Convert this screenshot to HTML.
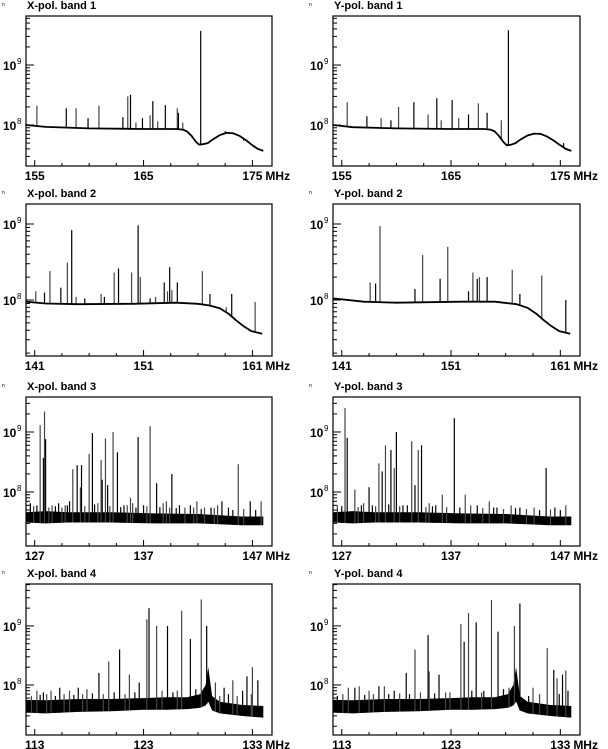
<!DOCTYPE html>
<html><head><meta charset="utf-8"><style>
html,body{margin:0;padding:0;background:#fff;}
svg{display:block;font-family:"Liberation Sans",Arial,sans-serif;}
</style></head><body>
<svg id="chart" width="608" height="749" viewBox="0 0 608 749" xmlns="http://www.w3.org/2000/svg"></svg>
<script>
// ---- data (frequencies in MHz, power values) ----
const b1Ticks=[155,165,175];
const b2Ticks=[141,151,161];
const b3Ticks=[127,137,147];
const b4Ticks=[113,123,133];

// Band 1 X
const x1BaseF=[154.2,156,160,165,168,168.6,169.0,169.4,169.8,170.1,170.5,170.9,171.4,172,172.6,173.2,173.8,174.4,175,175.5,176];
const x1BaseV=[1.0e8,9.3e7,8.8e7,8.6e7,8.6e7,8.4e7,7.8e7,6.6e7,5.3e7,4.7e7,4.8e7,5.0e7,5.8e7,6.8e7,7.4e7,7.3e7,6.6e7,5.6e7,4.6e7,4.0e7,3.7e7];
const x1SpF=[155.2,157.9,158.8,159.9,160.9,163.1,163.55,163.8,164.3,164.9,165.6,165.85,166.3,167.0,168.1,168.2,168.6,170.25,172.5,174.2];
const x1SpV=[2.1e8,1.9e8,1.9e8,1.3e8,2.1e8,1.35e8,3.0e8,3.2e8,1.1e8,1.3e8,1.45e8,2.5e8,1.15e8,2.15e8,1.9e8,1.6e8,1.1e8,3.7e9,8e7,5.5e7];
// Band 1 Y
const y1BaseF=[154.2,156,160,165,168,168.6,169.0,169.4,169.8,170.1,170.5,170.9,171.4,172,172.6,173.2,173.8,174.4,175,175.5,176];
const y1BaseV=[1.0e8,9.2e7,8.8e7,8.6e7,8.6e7,8.4e7,7.8e7,6.5e7,5.2e7,4.6e7,4.7e7,5.0e7,5.8e7,6.7e7,7.2e7,7.1e7,6.4e7,5.5e7,4.6e7,4.0e7,3.7e7];
const y1SpF=[155.5,157.3,158.6,159.5,160.2,161.6,162.9,163.7,164.1,165.1,165.7,166.6,167.5,168.3,169.6,170.25,174.0,175.3];
const y1SpV=[2.4e8,1.4e8,1.3e8,1.2e8,2.0e8,2.4e8,1.5e8,2.8e8,1.2e8,2.6e8,1.3e8,1.5e8,2.3e8,1.6e8,1.2e8,3.8e9,6e7,5e7];

// Band 2 X
const x2BaseF=[140.2,142,145,150,154,156,157,158,158.8,159.5,160.2,160.9,161.9];
const x2BaseV=[9.5e7,9.0e7,8.8e7,8.9e7,9.2e7,8.9e7,8.5e7,7.8e7,6.6e7,5.4e7,4.5e7,3.9e7,3.6e7];
const x2SpF=[141.1,141.9,142.4,143.4,144.0,144.4,144.8,145.6,147.1,147.4,148.3,148.7,149.9,150.5,150.7,151.6,152.1,152.9,153.2,153.4,153.6,154.1,156.4,157.1,158.6,159.1,161.25];
const x2SpV=[1.3e8,1.25e8,2.4e8,1.45e8,3.1e8,8.3e8,1.1e8,1.05e8,1.2e8,1.1e8,2.3e8,2.6e8,2.3e8,9.6e8,2.0e8,1.05e8,1.1e8,1.7e8,1.3e8,2.7e8,1.35e8,1.7e8,2.4e8,1.2e8,8e7,1.2e8,9.4e7];
// Band 2 Y
const y2BaseF=[140.2,143,146,152,155,157,158,158.8,159.5,160.2,160.9,161.9];
const y2BaseV=[1.05e8,9.5e7,9.2e7,9.5e7,9.5e7,8.8e7,7.9e7,6.6e7,5.4e7,4.5e7,3.9e7,3.6e7];
const y2SpF=[143.6,144.1,144.5,147.7,148.4,150.0,150.7,152.6,153.0,153.4,153.6,154.3,156.6,157.3,159.3,161.5];
const y2SpV=[1.7e8,1.65e8,9.4e8,1.4e8,3.9e8,1.9e8,5.0e8,1.3e8,2.3e8,1.9e8,2.0e8,2.0e8,2.5e8,1.2e8,2.1e8,1.0e8];

// Band 3 noise floor (low/high envelope)
const n3F=[126.2,128,130,134,138,142,144,146,148];
const n3Low=[3.1e7,3.0e7,3.1e7,3.1e7,3.0e7,3.0e7,2.9e7,2.8e7,2.8e7];
const n3High=[4.6e7,4.8e7,4.6e7,4.6e7,4.4e7,4.3e7,4.1e7,3.9e7,3.9e7];
// Band 3 X
const x3SpF=[127.5,127.8,127.9,128.0,130.5,130.9,131.2,131.3,132.0,132.3,133.1,133.2,133.5,133.7,134.2,134.6,135.8,136.5,137.6,138.2,139.1,139.6,141.9,144.2,145.7,146.8,147.8,126.6,128.6,129.2,129.8,130.2,132.8,135.2,136.0,137.0,138.8,140.3,140.8,141.3,142.6,143.2,143.8,144.8,126.9,127.2,128.3,128.9,129.5,130.0,131.6,132.5,133.9,134.9,135.5,136.3,137.3,138.5,139.4,140.0,141.6,142.3,143.5,145.2,146.2,147.3];
const x3SpV=[1.3e9,3.7e8,2.2e9,7.6e8,2.4e8,2.8e8,1.2e8,2.8e8,4.3e8,9.6e8,3.4e8,1.6e8,7.8e8,1.3e8,1.0e9,4.6e8,8e7,8.2e8,1.25e9,1.4e8,7e7,2.0e8,7e7,7e7,2.9e8,7e7,7e7,6.5e7,6e7,6.5e7,6e7,7e7,6.5e7,6e7,6.5e7,6e7,6.5e7,6e7,5.5e7,6e7,5.5e7,5.5e7,6e7,5.5e7,5.8e7,6e7,5.5e7,5.8e7,5.5e7,6e7,5.8e7,6.2e7,5.8e7,5.6e7,6e7,5.5e7,5.8e7,5.6e7,5.5e7,5.4e7,5.5e7,5.2e7,5.4e7,5e7,5.2e7,5e7];
// Band 3 Y
const y3SpF=[127.3,127.5,128.2,129.5,130.4,130.7,131.0,131.5,131.8,132.0,133.4,133.7,134.0,134.3,136.2,137.3,138.3,139.4,140.5,145.7,126.6,128.8,129.0,132.6,135.0,135.6,138.8,141.2,142.5,143.3,144.6,146.5,147.5,127.0,128.5,129.8,130.1,131.3,132.3,133.0,134.7,135.3,136.6,137.8,139.9,140.9,141.8,142.9,143.9,145.1,146.1,147.0];
const y3SpV=[2.5e9,8e8,1.1e8,1.2e8,3.0e8,2.2e8,6e8,5e8,2.5e8,1.0e9,7e8,1.3e8,5e8,6e8,9e7,1.7e9,9e7,6e7,7e7,2.5e8,6e7,6e7,6.5e7,6e7,6.5e7,6e7,6e7,5.5e7,6e7,5.5e7,5.5e7,5.5e7,6e7,5.8e7,5.6e7,6e7,5.8e7,6.2e7,5.8e7,6e7,5.6e7,5.8e7,5.6e7,5.5e7,5.4e7,5.5e7,5.2e7,5.4e7,5.2e7,5e7,5.1e7,5e7];

// Band 4 noise floor
const n4F=[112.2,114,117,120,123,125,127,128.2,128.7,128.95,129.3,130,132,134];
const n4Low=[3.4e7,3.3e7,3.5e7,3.6e7,3.8e7,3.8e7,3.9e7,4.1e7,4.5e7,5.2e7,3.7e7,3.3e7,3.0e7,2.8e7];
const n4High=[5.6e7,5.5e7,5.8e7,5.8e7,6.0e7,6.2e7,6.2e7,7.0e7,1.0e8,2.0e8,6.5e7,5.2e7,4.6e7,4.4e7];
// Band 4 X
const x4SpF=[113.2,113.8,114.5,115.3,116.2,117.0,117.8,118.9,119.8,120.8,121.7,122.6,123.3,123.5,124.2,125.2,126.5,127.3,128.3,128.8,129.6,130.4,131.2,132.5,133.0,133.5,112.7,113.5,114.1,114.9,115.7,116.6,117.4,118.3,119.3,120.3,121.3,122.2,124.7,125.7,126.1,127.8,130.0,130.8,131.6,132.1,132.9];
const x4SpV=[8e7,7.5e7,8e7,9e7,8e7,9e7,8.5e7,1.6e8,2.5e8,4.0e8,1.5e8,1.1e8,1.3e9,2.0e9,1.0e9,1.0e9,1.8e9,6e8,2.8e9,1.0e9,1.1e8,9e7,1.2e8,1.4e8,2.0e8,1.2e8,6.5e7,6.8e7,7e7,6.5e7,7e7,6.8e7,7e7,7.2e7,7e7,7.5e7,7e7,7.5e7,8e7,7.5e7,8e7,8.5e7,6.5e7,7e7,6.5e7,8e7,7e7];
// Band 4 Y
const y4SpF=[113.6,114.2,114.6,116.4,116.9,118.9,119.7,120.9,121.0,121.9,123.9,124.2,124.6,125.3,126.7,127.3,128.8,129.3,131.8,132.4,132.7,133.2,133.5,133.7,115.5,117.8,122.5,126.0,130.5,112.6,113.1,115.1,115.9,117.3,118.3,119.2,120.2,121.5,122.9,124.9,125.8,127.8,128.3,130.1,131.1,132.9];
const y4SpV=[9e7,9e7,9.5e7,9.5e7,9.5e7,1.6e8,4e8,7e8,1.7e8,1.5e8,1.08e9,5.4e8,1.65e9,1.15e9,2.75e9,8e8,1.0e9,2.4e9,4.2e8,1.8e8,1.3e8,1.5e8,1.75e8,8e7,8e7,8e7,7.5e7,8e7,9e7,6.5e7,7e7,6.8e7,7e7,7e7,7.2e7,7e7,7.5e7,7.2e7,7.5e7,8e7,7.5e7,8.5e7,9e7,6.5e7,7e7,7e7];

// ---- rendering ----
const NS="http://www.w3.org/2000/svg";
const svg=document.getElementById('chart');
function mk(tag,attrs,parent){const e=document.createElementNS(NS,tag);for(const k in attrs)e.setAttribute(k,attrs[k]);(parent||svg).appendChild(e);return e;}

function panel(o){
  const g=mk('g',{});
  
  
  const f0=o.ticks[0]-0.8, f1=o.ticks[0]+21.8;
  const sx=f=>o.x+(f-f0)/(f1-f0)*o.w;
  const sy=v=>o.y+(o.lmax-Math.log10(v))/(o.lmax-o.lmin)*o.h;
  const t=mk('text',{x:o.x+1,y:o.y-7,'font-size':11,'font-weight':'bold',fill:'#000'},g);
  t.textContent=o.title;
  
  
  const n=mk('text',{x:o.x-24,y:o.y-10,'font-size':5,fill:'#000'},g);
  n.textContent='n';
  
  
  const cid='c'+o.name;
  const cp=mk('clipPath',{id:cid},g);mk('rect',{x:o.x,y:o.y,width:o.w,height:o.h},cp);
  const plot=mk('g',{'clip-path':'url(#'+cid+')'},g);
  
  
  if(o.nF){
    let d='';
    for(let i=0;i<o.nF.length;i++)d+=(i?'L':'M')+sx(o.nF[i]).toFixed(1)+','+sy(o.nHigh[i]).toFixed(1);
    for(let i=o.nF.length-1;i>=0;i--)d+='L'+sx(o.nF[i]).toFixed(1)+','+sy(o.nLow[i]).toFixed(1);
    const band=mk('path',{d:d+'Z',fill:'#000'},plot);
    
    
  }
  const baseAt=f=>{
    const F=o.nF||o.baseF, V=o.nF?o.nLow:o.baseV;
    for(let i=0;i<F.length-1;i++)if(f<=F[i+1]){const r=(f-F[i])/(F[i+1]-F[i]);return Math.pow(10,Math.log10(V[i])+r*(Math.log10(V[i+1])-Math.log10(V[i])));}
    return V[V.length-1];
  };
  for(let i=0;i<o.spF.length;i++){
    const x=sx(o.spF[i]);
    const ln=mk('line',{x1:x,x2:x,y1:sy(baseAt(o.spF[i])),y2:sy(o.spV[i]),stroke:i%2?'#000':'#444','stroke-width':1.2},plot);
    
    
  }
  if(o.baseF){
    const p=o.baseF.map((f,i)=>sx(f).toFixed(1)+','+sy(o.baseV[i]).toFixed(1)).join(' ');
    const pl=mk('polyline',{points:p,fill:'none',stroke:'#000','stroke-width':1.8,'stroke-linejoin':'round'},plot);
    
    
  }
  const fr=mk('rect',{x:o.x,y:o.y,width:o.w,height:o.h,fill:'none',stroke:'#000','stroke-width':1.2},g);
  
  
  for(let f=o.ticks[0];f<=o.ticks[2]+0.01;f+=2.5){
    const major=Math.abs((f-o.ticks[0])%10)<0.01;
    mk('line',{x1:sx(f),x2:sx(f),y1:o.y+o.h,y2:o.y+o.h-(major?6:3),stroke:'#000'},g);
  }
  o.ticks.forEach((f)=>{
    const tx=mk('text',{x:sx(f),y:o.y+o.h+14,'font-size':12,'font-weight':'bold','text-anchor':'middle',fill:'#000'},g);
    tx.textContent=f;
    
    
  });
  const mh=mk('text',{x:sx(o.ticks[2])+13,y:o.y+o.h+14,'font-size':12,'font-weight':'bold',fill:'#000'},g);
  mh.textContent='MHz';
  
  
  for(let e=7;e<=9;e++){for(let m=1;m<=9;m++){
    const lv=e+Math.log10(m);
    if(lv<o.lmin||lv>o.lmax)continue;
    const y=sy(Math.pow(10,lv));
    mk('line',{x1:o.x,x2:o.x+(m==1?8:4),y1:y,y2:y,stroke:'#000'},g);
  }}
  [8,9].forEach(e=>{
    const y=sy(Math.pow(10,e));
    const tx=mk('text',{x:o.x-23,y:y+5,'font-size':12,'font-weight':'bold',fill:'#000'},g);
    tx.textContent='10';
    
    
    const sp=mk('text',{x:o.x-9,y:y-1,'font-size':8,fill:'#000'},g);
    sp.textContent=e;
  });
}

const rows=[{y:16,h:150,lmax:9.817,lmin:7.317},{y:204,h:152,lmax:9.263,lmin:7.263},{y:397,h:149,lmax:9.583,lmin:7.1},{y:584,h:151,lmax:9.71,lmin:7.153}];
const cols=[26,333];
panel(Object.assign({name:'x-pol-band-1',title:'X-pol. band 1',x:cols[0],w:246,ticks:b1Ticks,baseF:x1BaseF,baseV:x1BaseV,spF:x1SpF,spV:x1SpV},rows[0]));
panel(Object.assign({name:'y-pol-band-1',title:'Y-pol. band 1',x:cols[1],w:247,ticks:b1Ticks,baseF:y1BaseF,baseV:y1BaseV,spF:y1SpF,spV:y1SpV},rows[0]));
panel(Object.assign({name:'x-pol-band-2',title:'X-pol. band 2',x:cols[0],w:246,ticks:b2Ticks,baseF:x2BaseF,baseV:x2BaseV,spF:x2SpF,spV:x2SpV},rows[1]));
panel(Object.assign({name:'y-pol-band-2',title:'Y-pol. band 2',x:cols[1],w:247,ticks:b2Ticks,baseF:y2BaseF,baseV:y2BaseV,spF:y2SpF,spV:y2SpV},rows[1]));
panel(Object.assign({name:'x-pol-band-3',title:'X-pol. band 3',x:cols[0],w:246,ticks:b3Ticks,nF:n3F,nLow:n3Low,nHigh:n3High,spF:x3SpF,spV:x3SpV},rows[2]));
panel(Object.assign({name:'y-pol-band-3',title:'Y-pol. band 3',x:cols[1],w:247,ticks:b3Ticks,nF:n3F,nLow:n3Low,nHigh:n3High,spF:y3SpF,spV:y3SpV},rows[2]));
panel(Object.assign({name:'x-pol-band-4',title:'X-pol. band 4',x:cols[0],w:246,ticks:b4Ticks,nF:n4F,nLow:n4Low,nHigh:n4High,spF:x4SpF,spV:x4SpV},rows[3]));
panel(Object.assign({name:'y-pol-band-4',title:'Y-pol. band 4',x:cols[1],w:247,ticks:b4Ticks,nF:n4F,nLow:n4Low,nHigh:n4High,spF:y4SpF,spV:y4SpV},rows[3]));
</script>
</body></html>
